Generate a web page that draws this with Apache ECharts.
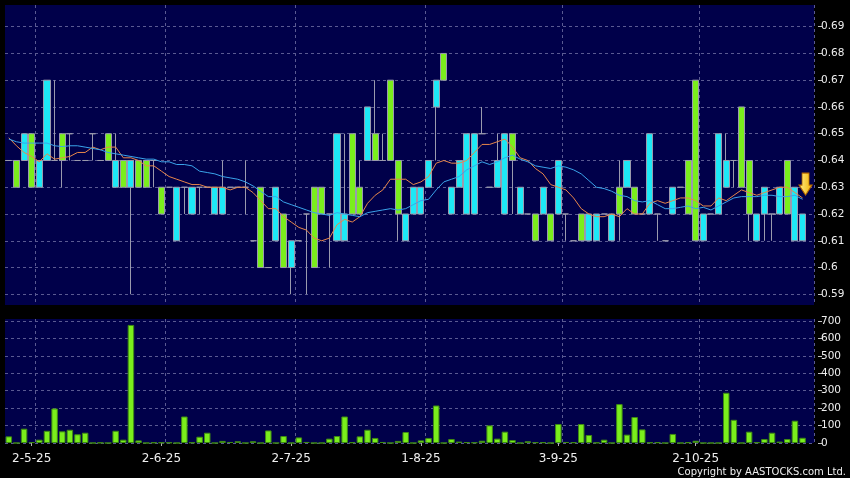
<!DOCTYPE html>
<html><head><meta charset="utf-8">
<script src="https://cdn.jsdelivr.net/npm/echarts@6/dist/echarts.min.js"></script>
<style>html,body{margin:0;padding:0;background:#000;}#c{width:850px;height:478px;}</style>
</head><body><div id="c"></div>
<script>
// ---- data ----
const opens = [
.64,.64,.64,.65,.63,.64,.64,.65,.65,.64,
.64,.65,.64,.65,.63,.64,.63,.64,.64,.64,
.63,.63,.61,.63,.62,.63,.63,.62,.62,.63,
.63,.63,.61,.63,.60,.61,.62,.60,.61,.62,
.63,.63,.62,.61,.61,.65,.63,.64,.65,.64,
.67,.64,.61,.62,.62,.63,.66,.68,.62,.63,
.62,.62,.65,.63,.63,.62,.65,.62,.62,.62,
.62,.62,.62,.62,.61,.62,.61,.61,.62,.61,
.63,.63,.63,.62,.62,.62,.61,.62,.63,.64,
.67,.61,.62,.62,.63,.64,.66,.64,.61,.62,
.62,.62,.64,.61,.61];
const closes = [
.64,.63,.65,.63,.64,.67,.64,.64,.65,.64,
.64,.65,.64,.64,.64,.63,.64,.63,.63,.64,
.62,.63,.63,.63,.63,.63,.63,.63,.63,.63,
.63,.63,.61,.60,.60,.63,.60,.61,.61,.62,
.60,.62,.62,.65,.62,.62,.62,.66,.64,.64,
.64,.62,.62,.63,.63,.64,.67,.67,.63,.64,
.65,.65,.65,.63,.64,.65,.64,.63,.62,.61,
.63,.61,.64,.62,.61,.61,.62,.62,.62,.62,
.62,.64,.62,.62,.65,.62,.61,.63,.63,.62,
.61,.62,.62,.65,.64,.64,.63,.62,.62,.63,
.62,.63,.62,.63,.62];
const lows = [
.64,.63,.64,.63,.63,.64,.64,.63,.64,.64,
.64,.64,.64,.64,.63,.63,.59,.63,.63,.63,
.62,.63,.61,.62,.62,.62,.63,.62,.62,.63,
.63,.62,.61,.60,.60,.61,.60,.59,.61,.59,
.60,.62,.60,.61,.61,.62,.62,.64,.64,.64,
.64,.61,.61,.62,.62,.63,.64,.67,.62,.63,
.62,.62,.65,.63,.63,.62,.62,.62,.62,.61,
.62,.61,.62,.61,.61,.61,.61,.61,.62,.61,
.61,.63,.62,.62,.62,.61,.61,.62,.63,.62,
.61,.61,.62,.62,.63,.63,.63,.61,.61,.61,
.61,.62,.62,.61,.61];
const highs = [
.64,.64,.65,.65,.64,.67,.67,.65,.65,.64,
.64,.65,.64,.65,.65,.64,.64,.64,.64,.64,
.63,.63,.63,.63,.63,.63,.63,.63,.64,.63,
.63,.64,.61,.63,.60,.63,.62,.61,.61,.62,
.63,.63,.62,.65,.65,.65,.64,.66,.67,.65,
.67,.64,.62,.63,.63,.64,.67,.68,.63,.64,
.65,.65,.66,.63,.65,.65,.65,.63,.62,.62,
.63,.62,.64,.62,.61,.62,.62,.62,.62,.62,
.64,.64,.63,.62,.65,.62,.61,.63,.63,.64,
.67,.62,.62,.65,.65,.64,.66,.64,.62,.63,
.62,.63,.64,.63,.62];
const ma10 = [
.6485,.6455,.643,.6415,.6395,.6425,.6405,.641,.6415,.643,
.643,.645,.644,.645,.645,.641,.641,.640,.638,.638,
.636,.634,.633,.632,.631,.631,.630,.630,.630,.629,
.630,.630,.628,.625,.622,.622,.619,.617,.615,.614,
.611,.610,.611,.616,.618,.617,.619,.624,.627,.629,
.633,.633,.633,.631,.632,.634,.639,.640,.639,.639,
.640,.643,.646,.646,.647,.648,.645,.641,.640,.637,
.635,.631,.630,.629,.626,.622,.620,.619,.619,.620,
.619,.622,.620,.620,.624,.625,.624,.625,.626,.626,
.625,.623,.623,.626,.625,.627,.629,.628,.627,.628,
.629,.630,.630,.628,.626];
const ma20 = [
.648,.647,.6465,.6465,.6465,.6465,.6455,.6452,.6455,.6455,
.645,.6445,.644,.643,.6425,.642,.6415,.641,.6405,.6405,
.6395,.6395,.6385,.6385,.638,.636,.6355,.635,.634,.6335,
.633,.632,.6305,.6285,.6265,.6265,.6245,.6235,.6225,.6215,
.6205,.620,.6195,.6205,.620,.6195,.619,.6205,.621,.6215,
.622,.6215,.622,.6235,.625,.6255,.629,.632,.633,.634,
.6365,.638,.6395,.6385,.6395,.641,.642,.6405,.6395,.638,
.6375,.637,.638,.6375,.6365,.635,.6325,.630,.6295,.6285,
.627,.6265,.625,.6245,.625,.6235,.622,.622,.6225,.623,
.622,.6225,.6215,.623,.6245,.626,.6265,.6265,.6265,.627,
.627,.6265,.6265,.627,.6255];
const volumes = [
38,0,82,5,19,70,198,67,76,50,
59,0,2,0,70,19,677,15,0,3,
3,3,0,152,3,36,59,0,12,6,
10,0,10,0,72,0,40,0,32,6,
0,0,25,40,152,4,38,76,29,6,
0,12,63,0,15,29,215,0,23,8,
5,3,13,101,25,65,17,0,10,4,
4,0,109,6,4,109,46,2,19,0,
223,48,149,78,3,4,0,52,0,4,
13,0,0,0,288,133,0,65,4,23,
59,8,23,128,30];
const slotCount = 106;
const xLabels = ['2-5-25','2-6-25','2-7-25','1-8-25','3-9-25','2-10-25'];
const xLabelIndex = [3,20,37,54,72,90];
const monthStartIndex = [4,21,38,55,73,91];
const priceTicks = [0.59,0.6,0.61,0.62,0.63,0.64,0.65,0.66,0.67,0.68,0.69];
const volumeTicks = [0,100,200,300,400,500,600,700];
const lastPriceMarker = 0.6312;

// ---- chart ----
const categories = Array.from({length: slotCount}, (_, i) => 'T' + (i + 1));
const candles = opens.map((o, i) => [o, closes[i], lows[i], highs[i]]);
const FONT = 'DejaVu Sans';
const gridLine = {show: true, lineStyle: {color: '#5a5a92', type: [3, 3], width: 1}};
const CYAN = '#1de8f6', GREEN = '#7aee1c', EDGE = '#9a9aae';

const chart = echarts.init(document.getElementById('c'), null, {renderer: 'canvas'});
chart.setOption({
  backgroundColor: '#000',
  animation: false,
  grid: [
    {left: 5, top: 5, width: 809, height: 300, show: true, backgroundColor: '#00004a', borderWidth: 0},
    {left: 5, top: 319, width: 809, height: 124, show: true, backgroundColor: '#00004a', borderWidth: 0}
  ],
  xAxis: [
    {type: 'category', gridIndex: 0, data: categories, boundaryGap: true,
     axisLine: {show: false}, axisTick: {show: false}, axisLabel: {show: false},
     splitLine: Object.assign({}, gridLine, {interval: (i) => monthStartIndex.includes(i)})},
    {type: 'category', gridIndex: 1, data: categories, boundaryGap: true, offset: 3,
     axisLine: {show: false},
     axisTick: {show: true, alignWithLabel: true, length: 3, interval: (i) => xLabelIndex.includes(i), lineStyle: {color: '#b0b0b0'}},
     axisLabel: {show: true, interval: (i) => xLabelIndex.includes(i),
       formatter: (v, i) => xLabels[xLabelIndex.indexOf(i)] || '',
       color: '#eeeeee', fontSize: 12, fontFamily: FONT, margin: 7},
     splitLine: Object.assign({}, gridLine, {interval: (i) => monthStartIndex.includes(i)})}
  ],
  yAxis: [
    {type: 'value', gridIndex: 0, position: 'right', min: 0.586, max: 0.6981, offset: 4,
     axisLine: {show: false},
     axisTick: {show: true, length: 4, customValues: priceTicks, lineStyle: {color: '#c0c0c0'}},
     axisLabel: {customValues: priceTicks, formatter: (v) => String(parseFloat(Number(v).toFixed(2))),
       color: '#eeeeee', fontSize: 10.5, fontFamily: FONT, margin: 3},
     splitLine: gridLine},
    {type: 'value', gridIndex: 1, position: 'right', min: 0, max: 711, offset: 4,
     axisLine: {show: false},
     axisTick: {show: true, length: 4, customValues: volumeTicks, lineStyle: {color: '#c0c0c0'}},
     axisLabel: {customValues: volumeTicks, color: '#eeeeee', fontSize: 10.5, fontFamily: FONT, margin: 3},
     splitLine: gridLine}
  ],
  series: [
    {type: 'candlestick', xAxisIndex: 0, yAxisIndex: 0, data: candles, barWidth: '86%',
     itemStyle: {color: CYAN, color0: GREEN, borderColor: EDGE, borderColor0: EDGE, borderColorDoji: EDGE, borderWidth: 1},
     markPoint: {
       symbol: 'path://M3,0 L10,0 L10,12 L13,12 L6.5,22 L0,12 L3,12 Z',
       symbolSize: [13, 22], symbolOffset: [3, 0], label: {show: false},
       itemStyle: {color: {type: 'linear', x: 0, y: 0, x2: 1, y2: 0,
         colorStops: [{offset: 0, color: '#fff08a'}, {offset: 1, color: '#f2b000'}]},
         borderColor: '#b86a00', borderWidth: 1},
       data: [{coord: [104, lastPriceMarker]}]
     }},
    {type: 'line', xAxisIndex: 0, yAxisIndex: 0, data: ma10, showSymbol: false, z: 5,
     lineStyle: {color: '#e8874a', width: 1}, itemStyle: {color: '#e8874a'}},
    {type: 'line', xAxisIndex: 0, yAxisIndex: 0, data: ma20, showSymbol: false, z: 5,
     lineStyle: {color: '#3aa4ea', width: 1}, itemStyle: {color: '#3aa4ea'}},
    {type: 'bar', xAxisIndex: 1, yAxisIndex: 1, data: volumes, barWidth: '85%',
     itemStyle: {color: GREEN, borderColor: '#3f8a14', borderWidth: 1}}
  ],
  graphic: [
    {type: 'text', right: 4, bottom: 1,
     style: {text: 'Copyright by AASTOCKS.com Ltd.', fill: '#f0f0f0', font: '10px "DejaVu Sans"'}}
  ]
});
</script></body></html>
